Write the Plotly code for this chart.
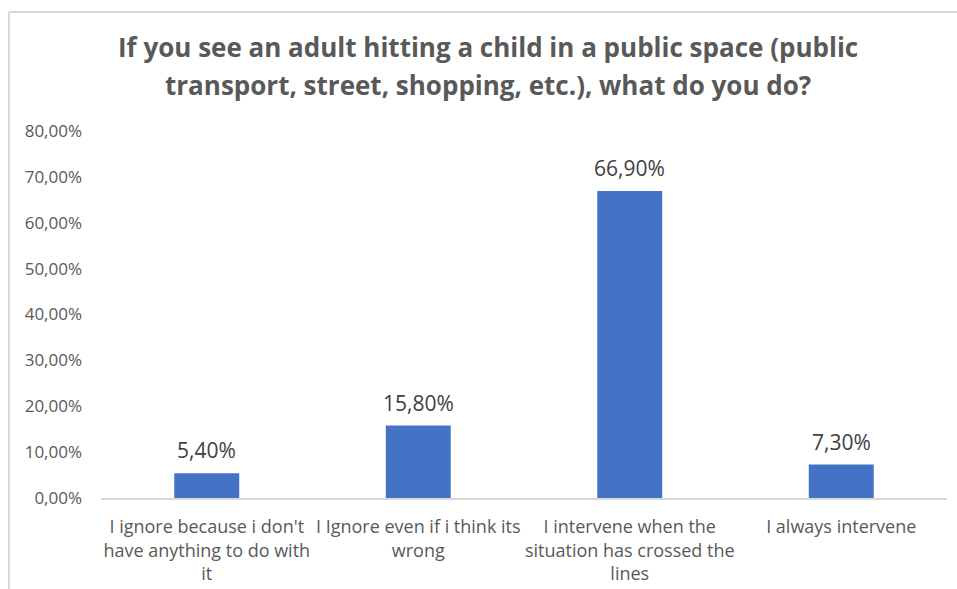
import plotly.graph_objects as go

# Survey answers and their shares of respondents
categories = [
    "I ignore because i don't<br>have anything to do with<br>it",
    "I Ignore even if i think its<br>wrong",
    "I intervene when the<br>situation has crossed the<br>lines",
    "I always intervene",
]
shares = [0.054, 0.158, 0.669, 0.073]
y_ticks = [0, 0.1, 0.2, 0.3, 0.4, 0.5, 0.6, 0.7, 0.8]
title_lines = [
    "If you see an adult hitting a child in a public space (public",
    "transport, street, shopping, etc.), what do you do?",
]

FONT = "Open Sans"
GREY = "#595959"
BAR = "#4472C4"

fig = go.Figure(
    go.Bar(
        x=categories,
        y=shares,
        marker=dict(color=BAR, line=dict(width=0)),
        width=0.307,
        hoverinfo="x+y",
    )
)

W, H = 957, 589
ml, mr, mt, mb = 101, 10, 131, 91
pw, ph = W - ml - mr, H - mt - mb

def px_x(x):
    return (x - ml) / pw

def px_y(y):
    return (H - mb - y) / ph

annotations = []

# Value labels above each bar
for cat, val in zip(categories, shares):
    annotations.append(dict(
        x=cat, y=val, xref="x", yref="y",
        text=f"{val * 100:.2f}%".replace(".", ","),
        showarrow=False, yanchor="bottom", yshift=7,
        font=dict(family=FONT, size=21, color="#404040"),
    ))

# Two-line bold heading
for line, yc in zip(title_lines, [47, 85]):
    annotations.append(dict(
        text=f"<b>{line}</b>", xref="paper", yref="paper",
        x=px_x(488), y=px_y(yc), xanchor="center", yanchor="middle",
        showarrow=False, font=dict(family=FONT, size=26, color=GREY),
    ))

# Light frame around the chart area
frame = dict(color="#d9d9d9", width=2)
shapes = [
    dict(type="line", xref="paper", yref="paper",
         x0=px_x(9), x1=px_x(9), y0=px_y(12), y1=px_y(600), line=frame),
    dict(type="line", xref="paper", yref="paper",
         x0=px_x(9), x1=px_x(970), y0=px_y(12), y1=px_y(12), line=frame),
]

fig.update_layout(
    width=W, height=H,
    margin=dict(l=ml, r=mr, t=mt, b=mb, pad=0),
    paper_bgcolor="white", plot_bgcolor="white",
    separators=",.",
    showlegend=False,
    annotations=annotations,
    shapes=shapes,
    font=dict(family=FONT, color=GREY),
    xaxis=dict(
        showline=True, linecolor="#d9d9d9", linewidth=1.5,
        ticks="", showgrid=False, automargin=False,
        tickfont=dict(family=FONT, size=18, color=GREY),
        tickangle=0, ticklabelstandoff=12,
    ),
    yaxis=dict(
        range=[0, 0.8], tickvals=y_ticks, tickformat=".2%",
        showgrid=False, zeroline=False, showline=False, ticks="",
        automargin=False,
        tickfont=dict(family=FONT, size=17, color=GREY),
        ticklabelstandoff=18,
    ),
)

fig.write_html("out.html")
